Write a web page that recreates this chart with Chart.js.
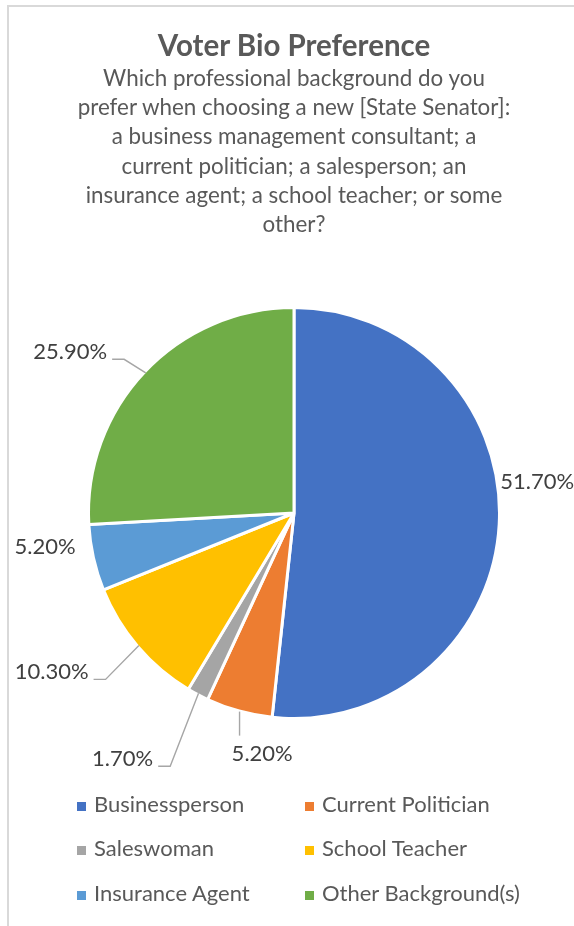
<!DOCTYPE html>
<html>
<head>
<meta charset="utf-8">
<script src="https://cdn.jsdelivr.net/npm/chart.js@4.4.1/dist/chart.umd.min.js"></script>
<style>
html,body{margin:0;padding:0;background:#fff;width:574px;height:926px;overflow:hidden;font-family:Lato,"Noto Sans",sans-serif;}
#frame{position:absolute;left:7px;top:5px;width:620px;height:980px;border-top:2px solid #d9d9d9;border-left:2px solid #d9d9d9;}
#chart{position:absolute;left:0;top:0;}
#title{position:absolute;left:0;width:588px;top:26.6px;text-align:center;font-weight:bold;font-size:29.5px;line-height:36px;color:#595959;white-space:nowrap;}
#subtitle{position:absolute;left:0;width:588px;top:62.7px;text-align:center;font-size:22.4px;line-height:29.3px;color:#595959;white-space:nowrap;}
.leg{position:absolute;font-size:22px;color:#595959;white-space:nowrap;line-height:30px;}
.sw{position:absolute;width:9px;height:9px;}
</style>
</head>
<body>
<div id="frame"></div>
<canvas id="chart" width="574" height="926"></canvas>
<div id="title">Voter Bio Preference</div>
<div id="subtitle">Which professional background do you<br>prefer when choosing a new [State Senator]:<br>a business management consultant; a<br>current politician; a salesperson; an<br>insurance agent; a school teacher; or some<br>other?</div>
<div id="legend"></div>
<script>
// ---- data ----
const categories = ['Businessperson', 'Current Politician', 'Saleswoman', 'School Teacher', 'Insurance Agent', 'Other Background(s)'];
const shares = [51.7, 5.2, 1.7, 10.3, 5.2, 25.9];
const valueLabels = ['51.70%', '5.20%', '1.70%', '10.30%', '5.20%', '25.90%'];
const sliceColors = ['#4472C4', '#ED7D31', '#A5A5A5', '#FFC000', '#5B9BD5', '#70AD47'];

// ---- label placement (style, in pie-radius units relative to centre) ----
const labelPlacement = [
  {dx: 1.192, dy: -0.157, leader: 'none'},
  {dx: -0.156, dy: 1.179, leader: 'top'},
  {dx: -0.840, dy: 1.203, leader: 'left'},
  {dx: -1.188, dy: 0.777, leader: 'left'},
  {dx: -1.220, dy: 0.164, leader: 'none'},
  {dx: -1.097, dy: -0.792, leader: 'left'}
];
const LABEL_FONT_SIZE = 22;

const pieLabels = {
  id: 'pieLabels',
  afterDatasetsDraw(chart) {
    const ctx = chart.ctx;
    const meta = chart.getDatasetMeta(0);
    const bw = chart.data.datasets[0].borderWidth;
    ctx.save();
    ctx.font = LABEL_FONT_SIZE + 'px Lato, "Noto Sans", sans-serif';
    ctx.textBaseline = 'alphabetic';
    ctx.textAlign = 'left';
    const capH = 0.717 * LABEL_FONT_SIZE;
    meta.data.forEach((arc, i) => {
      const p = arc.getProps(['x', 'y', 'startAngle', 'endAngle', 'outerRadius'], true);
      const rv = p.outerRadius - bw / 2;
      const mid = (p.startAngle + p.endAngle) / 2;
      const ex = p.x + Math.cos(mid) * rv;
      const ey = p.y + Math.sin(mid) * rv;
      const pl = labelPlacement[i];
      const cx = p.x + pl.dx * rv;
      const cy = p.y + pl.dy * rv;
      const text = valueLabels[i];
      const w = ctx.measureText(text).width;
      const left = cx - w / 2;
      const right = cx + w / 2;
      const base = cy + capH / 2;
      ctx.strokeStyle = '#A6A6A6';
      ctx.lineWidth = 1.4;
      if (pl.leader === 'left') {
        ctx.beginPath();
        ctx.moveTo(ex, ey);
        ctx.lineTo(right + 17, base);
        ctx.lineTo(right + 5, base);
        ctx.stroke();
      } else if (pl.leader === 'top') {
        ctx.beginPath();
        ctx.moveTo(ex, ey + 2);
        ctx.lineTo(ex, cy - capH / 2 - 10);
        ctx.stroke();
      }
      ctx.fillStyle = '#404040';
      ctx.fillText(text, left, base);
    });
    ctx.restore();
  }
};

new Chart(document.getElementById('chart'), {
  type: 'pie',
  data: {
    labels: categories,
    datasets: [{
      data: shares,
      backgroundColor: sliceColors,
      borderColor: '#ffffff',
      borderWidth: 3,
      hoverBorderWidth: 3,
      hoverOffset: 0
    }]
  },
  options: {
    responsive: false,
    animation: false,
    devicePixelRatio: 1,
    layout: {padding: {left: 87, right: 73, top: 306, bottom: 206}},
    plugins: {
      legend: {display: false},
      tooltip: {enabled: false},
      title: {display: false}
    }
  },
  plugins: [pieLabels]
});

// ---- legend (two columns) ----
const legendEl = document.getElementById('legend');
const rowBaselines = [812, 856, 901];
const colSwatchX = [77, 305];
const colTextX = [94, 322];
categories.forEach((name, i) => {
  const col = i % 2, row = Math.floor(i / 2);
  const base = rowBaselines[row];
  const sw = document.createElement('div');
  sw.className = 'sw';
  sw.style.left = colSwatchX[col] + 'px';
  sw.style.top = (base - 10.5) + 'px';
  sw.style.background = sliceColors[i];
  legendEl.appendChild(sw);
  const t = document.createElement('div');
  t.className = 'leg';
  t.style.left = colTextX[col] + 'px';
  t.style.top = (base - 23.5) + 'px';
  t.textContent = name;
  legendEl.appendChild(t);
});
</script>
</body>
</html>
